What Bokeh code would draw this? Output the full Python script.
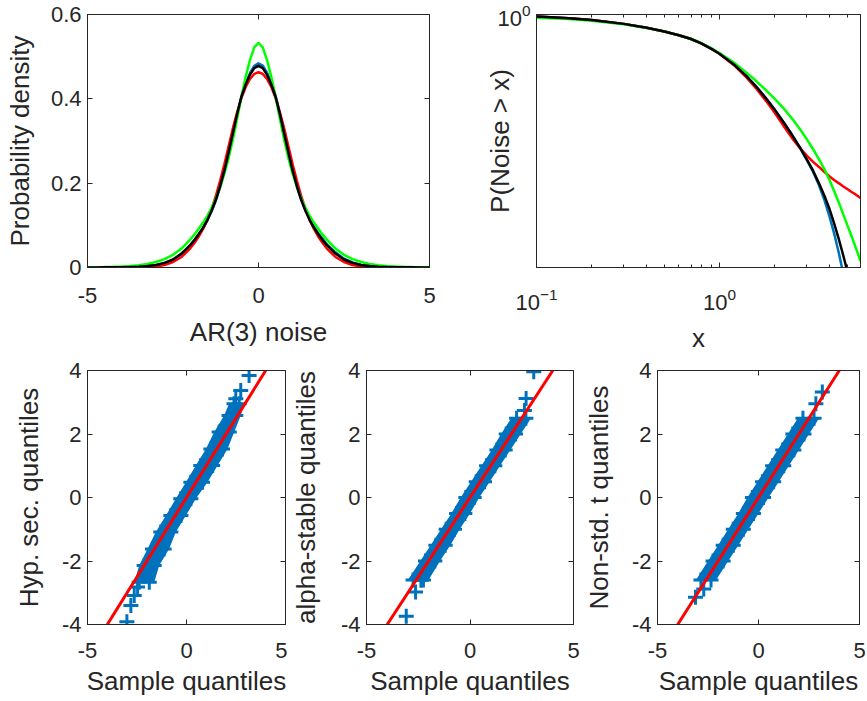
from bokeh.plotting import figure
from bokeh.layouts import column, row
from bokeh.models import (FixedTicker, CustomJSTickFormatter, LinearAxis, LogAxis,
                          Range1d, LogTickFormatter)
from bokeh.embed import file_html
from bokeh.resources import INLINE

# ---------------- data ----------------
# Probability density panel
dens_x = [-5.0, -4.75, -4.5, -4.25, -4.0, -3.75, -3.5, -3.25, -3.0, -2.75, -2.5, -2.25,
          -2.0, -1.875, -1.75, -1.625, -1.5, -1.375, -1.25, -1.125, -1.0, -0.875, -0.75,
          -0.625, -0.5, -0.375, -0.25, -0.125, 0.0, 0.125, 0.25, 0.375, 0.5, 0.625, 0.75,
          0.875, 1.0, 1.125, 1.25, 1.375, 1.5, 1.625, 1.75, 1.875, 2.0,
          2.25, 2.5, 2.75, 3.0, 3.25, 3.5, 3.75, 4.0, 4.25, 4.5, 4.75, 5.0]
dens_blue = [0.0001, 0.0001, 0.0002, 0.0004, 0.0006, 0.001, 0.0017, 0.003, 0.005, 0.010, 0.018,
             0.032, 0.052, 0.064, 0.078, 0.093, 0.111, 0.133, 0.158, 0.190, 0.227, 0.270,
             0.316, 0.362, 0.405, 0.436, 0.461, 0.478, 0.484, 0.479, 0.462, 0.438, 0.407,
             0.365, 0.318, 0.273, 0.230, 0.193, 0.161, 0.136, 0.114, 0.096, 0.081, 0.068, 0.055,
             0.036, 0.021, 0.012, 0.006, 0.003, 0.0015, 0.0008, 0.0004, 0.0002, 0.0001, 0.0001,
             0.0]
dens_red = [0.0, 0.0, 0.0, 0.0, 0.0001, 0.0002, 0.0004, 0.001, 0.0025, 0.006, 0.013, 0.025,
            0.045, 0.058, 0.073, 0.091, 0.112, 0.138, 0.169, 0.205, 0.244, 0.287, 0.330, 0.368,
            0.402, 0.428, 0.447, 0.459, 0.463, 0.459, 0.447, 0.428, 0.402, 0.368, 0.330, 0.287,
            0.244, 0.205, 0.169, 0.138, 0.112, 0.091, 0.073, 0.058, 0.045,
            0.025, 0.013, 0.006, 0.0025, 0.001, 0.0004, 0.0002, 0.0001, 0.0, 0.0, 0.0, 0.0]
dens_green = [0.0004, 0.0006, 0.001, 0.0015, 0.0023, 0.0035, 0.0055, 0.0085, 0.013, 0.020,
              0.030, 0.045, 0.066, 0.078, 0.092, 0.106, 0.122, 0.141, 0.163, 0.190, 0.222,
              0.259, 0.303, 0.353, 0.405, 0.452, 0.492, 0.522, 0.533, 0.522, 0.492, 0.452,
              0.405, 0.353, 0.303, 0.259, 0.222, 0.190, 0.163, 0.141, 0.122, 0.106, 0.092,
              0.078, 0.066, 0.045, 0.030, 0.020, 0.013, 0.0085, 0.0055, 0.0035, 0.0023, 0.0015,
              0.001, 0.0006, 0.0004]
dens_black = [0.0001, 0.0002, 0.0003, 0.0004, 0.0007, 0.0012, 0.002, 0.0035, 0.006, 0.011,
              0.019, 0.033, 0.053, 0.065, 0.079, 0.094, 0.112, 0.134, 0.160, 0.192, 0.229,
              0.272, 0.318, 0.364, 0.405, 0.434, 0.457, 0.473, 0.478, 0.473, 0.457, 0.434,
              0.405, 0.364, 0.318, 0.272, 0.229, 0.192, 0.160, 0.134, 0.112, 0.094, 0.079,
              0.065, 0.053, 0.033, 0.019, 0.011, 0.006, 0.0035, 0.002, 0.0012, 0.0007, 0.0004,
              0.0003, 0.0002, 0.0001]

# Survival panel P(Noise > x)
surv_x = [0.1, 0.15, 0.2, 0.3, 0.4, 0.5, 0.6, 0.7, 0.8, 0.9, 1.0, 1.2, 1.4, 1.6, 1.8, 2.0, 2.25,
          2.5, 2.75, 3.0, 3.25, 3.5, 3.75, 4.0, 4.25, 4.5, 4.75, 5.0, 5.25, 5.5, 5.9]
surv_black = [0.931, 0.875, 0.817, 0.711, 0.619, 0.540, 0.471, 0.410, 0.347, 0.288, 0.240, 0.162,
              0.107, 0.0708, 0.0468, 0.0316, 0.0195, 0.0123, 0.00794, 0.00513, 0.00339, 0.00214,
              0.00135, 0.000832, 0.000479, 0.000275, 0.000155, 0.0000871, 0.0000479,
              0.00003, 0.00001]
surv_blue = [0.931, 0.875, 0.817, 0.711, 0.619, 0.540, 0.471, 0.410, 0.347, 0.288, 0.240, 0.162,
             0.107, 0.0708, 0.0468, 0.0316, 0.0195, 0.0123, 0.00794, 0.00501, 0.00324, 0.0020,
             0.00115, 0.000631, 0.000331, 0.000166, 0.0000794, 0.0000355, 0.00001, 0.000005,
             0.000002]
surv_red = [0.931, 0.875, 0.817, 0.711, 0.619, 0.540, 0.471, 0.410, 0.347, 0.288, 0.240, 0.158,
            0.102, 0.0661, 0.0427, 0.0282, 0.0170, 0.0110, 0.00776, 0.00589, 0.00468, 0.00389,
            0.00324, 0.00275, 0.0024, 0.00214, 0.00191, 0.00174, 0.00158, 0.00145, 0.00126]
surv_green = [0.891, 0.848, 0.794, 0.700, 0.614, 0.537, 0.470, 0.410, 0.351, 0.295, 0.245, 0.174,
              0.1216, 0.0871, 0.0631, 0.0468, 0.0324, 0.0224, 0.0155, 0.0107, 0.00741, 0.00513,
              0.00355, 0.0024, 0.00158, 0.00105, 0.000692, 0.000468, 0.000324, 0.000224,
              0.000126]

# QQ panels: reference line, band of '+' markers (theoretical quantile, sample-quantile
# band edges) and the separate end markers
qq_line_x = [-4.0, 4.0]
qq_line_y = [-4.0, 4.0]

qq1_y = [-2.67, -2.14, -1.62, -1.09, -0.57, -0.04, 0.48, 1.01, 1.53, 2.06, 2.58, 2.95]
qq1_left = [-2.64, -2.39, -1.97, -1.55, -1.04, -0.54, -0.03, 0.47, 0.98, 1.40, 1.90, 2.15]
qq1_right = [-1.63, -1.38, -0.88, -0.54, -0.03, 0.47, 1.06, 1.57, 2.07, 2.41, 2.74, 2.91]
qq1_out_x = [-3.01, -2.81, -2.64, -2.47, 2.49, 2.74, 3.16]
qq1_out_y = [-3.91, -3.40, -3.09, -2.82, 3.11, 3.37, 3.84]

qq2_y = [-2.6, -2.0, -1.5, -1.0, -0.5, 0.0, 0.5, 1.0, 1.5, 2.0, 2.5]
qq2_left = [-3.0, -2.4, -1.9, -1.4, -0.9, -0.45, 0.05, 0.55, 1.05, 1.5, 2.0]
qq2_right = [-2.0, -1.45, -0.95, -0.5, 0.0, 0.45, 0.95, 1.45, 1.95, 2.45, 2.95]
qq2_out_x = [-3.08, -2.63, -2.37, 2.63, 2.71, 3.08]
qq2_out_y = [-3.74, -2.98, -2.61, 2.74, 3.12, 3.96]

qq3_y = [-2.6, -2.0, -1.5, -1.0, -0.5, 0.0, 0.5, 1.0, 1.5, 2.0, 2.5]
qq3_left = [-3.1, -2.5, -2.0, -1.5, -1.0, -0.55, -0.05, 0.45, 0.95, 1.45, 1.95]
qq3_right = [-2.1, -1.5, -1.0, -0.5, 0.0, 0.5, 1.0, 1.5, 2.0, 2.5, 3.0]
qq3_out_x = [-3.12, -2.71, 2.84, 3.16]
qq3_out_y = [-3.14, -2.88, 2.95, 3.32]

# ticks
dens_xticks = [-5, 0, 5]
dens_yticks = [0, 0.2, 0.4, 0.6]
surv_xticks = [0.1, 1.0]
surv_xminor = [0.2, 0.3, 0.4, 0.5, 0.6, 0.7, 0.8, 0.9, 2, 3, 4, 5]
surv_yticks = [1.0]
qq_xticks = [-5, 0, 5]
qq_yticks = [-4, -2, 0, 2, 4]

# ---------------- style ----------------
FONT = "Liberation Sans"
TXT = "#262626"
TICK_FS = "22px"
LAB_FS = "26px"
BLUE = "#0072BD"
RED = "#FF0000"
GREEN = "#00FF00"
BLACK = "#000000"
ARM = 0.25      # offset of edge '+' markers inside the band (data units)

fmt_js = "return tick.toString();"


def style_axis(ax, s_major, s_label):
    ax.axis_line_color = TXT
    ax.major_tick_line_color = TXT
    ax.minor_tick_line_color = TXT
    ax.major_tick_in = 5
    ax.major_tick_out = 0
    ax.minor_tick_in = 3
    ax.minor_tick_out = 0
    ax.major_label_text_font = FONT
    ax.major_label_text_font_size = TICK_FS
    ax.major_label_text_color = TXT
    ax.axis_label_text_font = FONT
    ax.axis_label_text_font_size = LAB_FS
    ax.axis_label_text_font_style = "normal"
    ax.axis_label_text_color = TXT
    ax.major_label_standoff = s_major
    ax.axis_label_standoff = s_label


def mirror(p, side, ticker, log=False):
    kw = dict(ticker=ticker, formatter=CustomJSTickFormatter(code="return '';"))
    ax = LogAxis(**kw) if log else LinearAxis(**kw)
    ax.axis_line_color = TXT
    ax.major_tick_line_color = TXT
    ax.minor_tick_line_color = TXT
    ax.major_tick_in = 5
    ax.major_tick_out = 0
    ax.minor_tick_in = 3
    ax.minor_tick_out = 0
    ax.major_label_text_font_size = "1px"
    ax.major_label_standoff = 0
    p.add_layout(ax, side)


def base_fig(w, h, xr, yr, bl, br, bt, bb, xtype="linear", ytype="linear"):
    p = figure(width=w, height=h, x_range=xr, y_range=yr, x_axis_type=xtype, y_axis_type=ytype,
               output_backend="svg", toolbar_location=None,
               min_border_left=bl, min_border_right=br, min_border_top=bt, min_border_bottom=bb)
    p.xgrid.visible = False
    p.ygrid.visible = False
    p.outline_line_color = TXT
    p.outline_line_width = 1
    p.background_fill_color = "white"
    p.border_fill_color = "white"
    return p


# ---- top-left: density ----
fa = base_fig(448, 355, Range1d(-5, 5), Range1d(0, 0.6), 87, 19, 14, 86)
fa.xaxis.ticker = FixedTicker(ticks=dens_xticks, minor_ticks=[])
fa.yaxis.ticker = FixedTicker(ticks=dens_yticks, minor_ticks=[])
fa.xaxis.formatter = CustomJSTickFormatter(code=fmt_js)
fa.yaxis.formatter = CustomJSTickFormatter(code=fmt_js)
fa.xaxis.axis_label = "AR(3) noise"
fa.yaxis.axis_label = "Probability density"
style_axis(fa.xaxis[0], 20, 11)
style_axis(fa.yaxis[0], 6, 13)
mirror(fa, "right", FixedTicker(ticks=dens_yticks, minor_ticks=[]))
mirror(fa, "above", FixedTicker(ticks=dens_xticks, minor_ticks=[]))
fa.line(dens_x, dens_blue, line_color=BLUE, line_width=2.5)
fa.line(dens_x, dens_red, line_color=RED, line_width=2.5)
fa.line(dens_x, dens_green, line_color=GREEN, line_width=2.5)
fa.line(dens_x, dens_black, line_color=BLACK, line_width=2.5)

# ---- top-right: survival, log-log ----
fb = base_fig(419, 355, Range1d(0.1, 5.9), Range1d(1e-4, 1.0), 88, 7, 14, 86,
              xtype="log", ytype="log")
fb.xaxis.ticker = FixedTicker(ticks=surv_xticks, minor_ticks=surv_xminor)
fb.yaxis.ticker = FixedTicker(ticks=surv_yticks, minor_ticks=[])
fb.xaxis.formatter = LogTickFormatter()
fb.yaxis.formatter = LogTickFormatter()
fb.xaxis.axis_label = "x"
fb.yaxis.axis_label = "P(Noise > x)"
style_axis(fb.xaxis[0], 20, 10)
style_axis(fb.yaxis[0], 6, -21)
mirror(fb, "right", FixedTicker(ticks=surv_yticks, minor_ticks=[]), log=True)
mirror(fb, "above", FixedTicker(ticks=surv_xticks, minor_ticks=surv_xminor), log=True)
fb.line(surv_x, surv_blue, line_color=BLUE, line_width=2.5)
fb.line(surv_x, surv_red, line_color=RED, line_width=2.5)
fb.line(surv_x, surv_green, line_color=GREEN, line_width=2.5)
fb.line(surv_x, surv_black, line_color=BLACK, line_width=2.5)


# ---- bottom: QQ plots ----
def qq_fig(w, bl, br, lab_off, ylabel, ys, left, right, ox, oy):
    p = base_fig(w, 346, Range1d(-5, 5), Range1d(-4, 4), bl, br, 15, 77)
    p.xaxis.ticker = FixedTicker(ticks=qq_xticks, minor_ticks=[])
    p.yaxis.ticker = FixedTicker(ticks=qq_yticks, minor_ticks=[])
    p.xaxis.formatter = CustomJSTickFormatter(code=fmt_js)
    p.yaxis.formatter = CustomJSTickFormatter(code=fmt_js)
    p.xaxis.axis_label = "Sample quantiles"
    p.yaxis.axis_label = ylabel
    style_axis(p.xaxis[0], 18, 5)
    style_axis(p.yaxis[0], 6, lab_off)
    mirror(p, "right", FixedTicker(ticks=qq_yticks, minor_ticks=[]))
    mirror(p, "above", FixedTicker(ticks=qq_xticks, minor_ticks=[]))
    p.harea(x1=left, x2=right, y=ys, fill_color=BLUE)
    p.scatter([v + ARM for v in left], ys, marker="cross", size=15, line_width=3, line_color=BLUE)
    p.scatter([v - ARM for v in right], ys, marker="cross", size=15, line_width=3, line_color=BLUE)
    p.scatter(ox, oy, marker="cross", size=15, line_width=3, line_color=BLUE)
    p.line(qq_line_x, qq_line_y, line_color=RED, line_width=3)
    return p


f1 = qq_fig(287, 87, 2, 15, "Hyp. sec. quantiles", qq1_y, qq1_left, qq1_right,
            qq1_out_x, qq1_out_y)
f2 = qq_fig(293, 76, 7, 17, "alpha-stable quantiles", qq2_y, qq2_left, qq2_right,
            qq2_out_x, qq2_out_y)
f3 = qq_fig(287, 71, 8, 15, "Non-std. t quantiles", qq3_y, qq3_left, qq3_right,
            qq3_out_x, qq3_out_y)

layout = column(row(fa, fb), row(f1, f2, f3))
open("out.html", "w").write(file_html(layout, INLINE))
